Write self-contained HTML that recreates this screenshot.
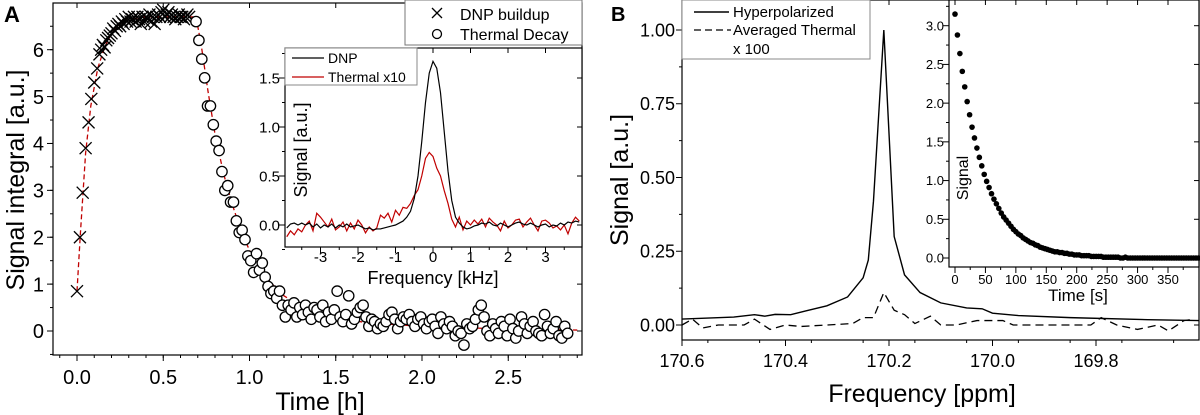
<!DOCTYPE html>
<html><head><meta charset="utf-8"><style>
body{margin:0;background:#fff}
svg{display:block;font-family:"Liberation Sans",sans-serif}
</style></head><body>
<svg id="fig" width="1200" height="415" viewBox="0 0 1200 415" xmlns="http://www.w3.org/2000/svg">
<rect width="1200" height="415" fill="#fff"/>
<g id="gA"></g>
<g id="gAi"></g>
<g id="gB"></g>
<g id="gBi"></g>
</svg>
<script>
// ---- Panel A data ----
const buildupT=[0,0.017,0.033,0.05,0.067,0.083,0.1,0.117,0.13,0.14,0.15,0.16,0.17,0.18,0.19,0.2,0.21,0.22,0.23,0.24,0.25,0.26,0.27,0.28,0.29,0.3,0.31,0.32,0.33,0.34,0.35,0.36,0.37,0.38,0.39,0.4,0.41,0.42,0.43,0.44,0.45,0.46,0.47,0.48,0.49,0.5,0.51,0.52,0.53,0.54,0.55,0.56,0.57,0.58,0.59,0.6,0.61,0.62,0.63,0.64,0.65];
const buildupV=[0.85,2.0,2.95,3.9,4.45,4.95,5.3,5.6,5.9,6.0,6.1,6.05,6.2,6.25,6.3,6.35,6.45,6.4,6.5,6.55,6.5,6.6,6.55,6.65,6.6,6.7,6.6,6.65,6.7,6.6,6.7,6.65,6.55,6.7,6.6,6.7,6.65,6.75,6.6,6.7,6.55,6.7,6.75,6.7,6.8,6.85,6.7,6.75,6.8,6.7,6.75,6.7,6.65,6.7,6.75,6.7,6.7,6.65,6.7,6.75,6.7];
const thermalStart=0.69, thermalStep=0.0167;
const thermalV=[6.6,6.2,5.8,5.4,4.8,4.8,4.4,4.05,3.85,3.4,3.0,3.1,2.75,2.75,2.35,2.1,2.15,1.95,1.6,1.5,1.25,1.65,1.3,1.45,1.15,0.95,0.8,0.85,0.7,0.85,0.55,0.3,0.55,
0.45,0.6,0.3,0.5,0.35,0.55,0.4,0.25,0.5,0.45,
0.3,0.55,0.2,0.4,0.25,0.45,0.85,0.3,0.2,0.35,
0.75,0.15,0.25,0.4,0.5,0.55,0.3,0.1,0.25,0.2,
0.05,0.15,0.1,0.2,0.35,0.4,0.25,0.05,0.2,0.3,
0.25,0.35,0.2,0.1,0.25,0.3,0.15,0.05,0.2,0.25,
0.1,-0.05,0.3,0.15,0.05,0.2,0.1,-0.1,0.0,-0.05,
-0.3,0.15,0.05,0.1,0.25,0.45,0.55,0.3,0.0,-0.1,
0.15,0.05,-0.05,0.2,0.1,-0.1,0.25,0.05,-0.15,0.0,
0.3,0.15,-0.05,0.1,0.2,0.0,-0.05,-0.1,0.35,0.1,-0.05,0.05,0.2,-0.1,-0.15,0.1,-0.05];
const fitT=[0,0.02,0.05,0.08,0.12,0.16,0.2,0.25,0.3,0.4,0.69,0.72,0.76,0.8,0.85,0.9,0.95,1.0,1.1,1.2,1.3,1.4,1.5,1.7,2.0,2.5,2.9];
const fitV=[0.85,2.1,3.8,4.8,5.6,6.05,6.35,6.55,6.65,6.7,6.7,6.1,5.1,4.2,3.35,2.7,2.15,1.72,1.12,0.75,0.52,0.37,0.27,0.17,0.1,0.04,0.02];
const aXTicks=[0,0.5,1.0,1.5,2.0,2.5];
const aXLabels=["0.0","0.5","1.0","1.5","2.0","2.5"];
const aYTicks=[0,1,2,3,4,5,6];
// ---- Panel A inset data ----
const specF=[-3.9,-3.8,-3.7,-3.6,-3.5,-3.4,-3.3,-3.2,-3.1,-3.0,-2.9,-2.8,-2.7,-2.6,-2.5,-2.4,-2.3,-2.2,-2.1,-2.0,-1.9,-1.8,-1.7,-1.6,-1.5,-1.4,-1.3,-1.2,-1.1,-1.0,-0.9,-0.8,-0.7,-0.6,-0.5,-0.4,-0.3,-0.2,-0.1,0,0.1,0.2,0.3,0.4,0.5,0.6,0.7,0.8,0.9,1.0,1.1,1.2,1.3,1.4,1.5,1.6,1.7,1.8,1.9,2.0,2.1,2.2,2.3,2.4,2.5,2.6,2.7,2.8,2.9,3.0,3.1,3.2,3.3,3.4,3.5,3.6,3.7,3.8,3.9];
const dnpV=[-0.03,0.01,0.02,0.0,0.02,0.0,0.02,-0.02,0.01,-0.03,0.0,-0.02,0.01,-0.03,0.0,-0.02,0.01,-0.02,-0.01,0.0,-0.02,-0.04,-0.03,-0.05,-0.04,-0.04,-0.03,-0.02,-0.01,0.0,0.02,0.04,0.08,0.14,0.27,0.5,0.85,1.25,1.55,1.67,1.6,1.35,0.95,0.55,0.25,0.08,0.02,-0.02,-0.04,-0.03,-0.01,0.0,0.02,0.01,0.03,0.0,-0.01,0.02,0.0,-0.02,0.0,0.02,0.03,0.01,0.0,0.02,0.0,-0.02,0.0,0.01,-0.02,0.0,-0.01,0.02,0.0,0.03,0.02,0.04,0.03];
const thermV=[-0.12,-0.06,-0.1,-0.04,-0.07,0.0,0.04,-0.06,0.12,0.08,0.03,-0.02,0.06,-0.05,-0.02,0.03,-0.06,0.02,-0.04,0.05,0.0,-0.08,-0.02,-0.06,-0.03,0.1,0.07,0.12,0.03,0.15,0.1,0.18,0.17,0.22,0.3,0.36,0.5,0.68,0.74,0.7,0.58,0.5,0.35,0.22,0.06,-0.02,0.08,-0.05,0.04,0.0,0.05,0.01,0.06,-0.02,0.07,0.03,0.0,-0.06,0.04,-0.03,0.0,0.05,0.06,-0.02,0.03,0.07,0.0,-0.06,0.04,0.05,0.02,-0.03,-0.01,-0.05,0.0,-0.09,0.02,0.08,0.04];
const aiXTicks=[-3,-2,-1,0,1,2,3];
const aiYTicks=[0,0.5,1.0,1.5];
const aiYLabels=["0.0","0.5","1.0","1.5"];
// ---- Panel B data ----
const hypPpm=[170.6,170.5,170.46,170.44,170.42,170.39,170.36,170.32,170.28,170.25,170.24,170.23,170.21,170.19,170.17,170.14,170.1,170.05,170.02,170.0,169.95,169.85,169.7,169.6];
const hypV=[0.02,0.027,0.035,0.03,0.036,0.035,0.048,0.065,0.095,0.16,0.22,0.42,1.0,0.3,0.17,0.11,0.075,0.058,0.055,0.04,0.032,0.025,0.018,0.015];
const thPpm=[170.6,170.58,170.56,170.53,170.48,170.46,170.43,170.4,170.37,170.32,170.27,170.25,170.23,170.21,170.19,170.17,170.15,170.12,170.1,170.07,170.03,169.98,169.96,169.9,169.81,169.79,169.76,169.72,169.68,169.66,169.63,169.61];
const thVb=[0.0,0.02,-0.01,0.0,0.0,0.02,-0.015,0.0,-0.005,0.0,0.005,0.025,0.025,0.11,0.05,0.035,0.005,0.03,0.0,0.0,0.015,0.015,0.0,0.0,0.0,0.025,0.0,-0.015,0.0,-0.02,0.015,0.02];
const bXTicks=[170.6,170.4,170.2,170.0,169.8];
const bXLabels=["170.6","170.4","170.2","170.0","169.8"];
const bYTicks=[0,0.25,0.5,0.75,1.0];
const bYLabels=["0.00","0.25","0.50","0.75","1.00"];
// ---- Panel B inset data ----
const decayStart=0, decayStep=4;
const decayV=[3.15,2.88,2.64,2.41,2.21,2.02,1.85,1.69,1.55,1.42,1.30,1.19,1.08,0.99,0.91,0.83,0.76,0.70,0.64,0.58,0.53,0.49,0.45,0.41,0.37,0.34,0.31,0.29,0.26,0.24,0.22,0.20,0.19,0.17,0.16,0.14,0.13,0.12,0.11,0.10,0.09,0.08,0.08,0.07,0.07,0.06,0.06,0.05,0.05,0.04,0.04,0.04,0.03,0.03,0.03,0.03,0.02,0.02,0.02,0.02,0.02,0.01,0.01,0.01,0.01,0.01,0.01,0.01,0.0,0.0,0.01,0.0,0.0,0.0,0.0,0.0,0.0,0.0,0.0,0.0,0.0,0.0,0.0,0.0,0.0,0.0,0.0,0.0,0.0,0.0,0.0,0.0,0.0,0.0,0.0,0.0,0.0,0.0,0.0,0.0,0.0];
const biXTicks=[0,50,100,150,200,250,300,350];
const biYTicks=[0,0.5,1.0,1.5,2.0,2.5,3.0];
const biYLabels=["0.0","0.5","1.0","1.5","2.0","2.5","3.0"];

const NS="http://www.w3.org/2000/svg";
function mk(p,tag,at,txt){const e=document.createElementNS(NS,tag);for(const k in at)e.setAttribute(k,at[k]);if(txt!==undefined)e.textContent=txt;p.appendChild(e);return e;}
function lin(d0,d1,r0,r1){return v=>r0+(v-d0)*(r1-r0)/(d1-d0);}

function frame(g,L,T,R,B,name){
  const f=mk(g,'rect',{x:L,y:T,width:R-L,height:B-T,fill:'none',stroke:'#000','stroke-width':1.2});
  
  
}
function xticks(g,xs,vals,labels,minor,B,T,fs,ly,name){
  vals.forEach((v,i)=>{
    mk(g,'line',{x1:xs(v),x2:xs(v),y1:B,y2:B+6,stroke:'#000','stroke-width':1});
    mk(g,'line',{x1:xs(v),x2:xs(v),y1:T,y2:T+5,stroke:'#000','stroke-width':1});
    const t=mk(g,'text',{x:xs(v),y:ly,'font-size':fs,'text-anchor':'middle'},labels[i]);
    
    
  });
  minor.forEach(v=>{mk(g,'line',{x1:xs(v),x2:xs(v),y1:B,y2:B+3,stroke:'#000','stroke-width':1});});
}
function yticks(g,ys,vals,labels,minor,L,R,fs,lx,name){
  vals.forEach((v,i)=>{
    mk(g,'line',{x1:L-6,x2:L,y1:ys(v),y2:ys(v),stroke:'#000','stroke-width':1});
    mk(g,'line',{x1:R-5,x2:R,y1:ys(v),y2:ys(v),stroke:'#000','stroke-width':1});
    const t=mk(g,'text',{x:lx,y:ys(v)+fs*0.36,'font-size':fs,'text-anchor':'end'},labels[i]);
    
    
  });
  minor.forEach(v=>{mk(g,'line',{x1:L-3,x2:L,y1:ys(v),y2:ys(v),stroke:'#000','stroke-width':1});});
}
function range(a,b,s){const r=[];for(let v=a;v<=b+1e-9;v+=s)r.push(+v.toFixed(4));return r;}

// ===== Panel A =====
const gA=document.getElementById('gA');
const AL=53,AR=582,AT=3,AB=355;
const ax=lin(0,1,77,249.5), ay=lin(0,6,331,49.7);
const fitPts=fitT.map((t,i)=>ax(t)+','+ay(fitV[i])).join(' ');
const fitLine=mk(gA,'polyline',{points:fitPts,fill:'none',stroke:'#c00000','stroke-width':1.3,'stroke-dasharray':'5,3'});


buildupT.forEach((t,i)=>{
  const x=ax(t),y=ay(buildupV[i]);
  const m=mk(gA,'path',{d:`M${x-6},${y-6}L${x+6},${y+6}M${x-6},${y+6}L${x+6},${y-6}`,stroke:'#000','stroke-width':1.3,fill:'none'});
  
  
});
thermalV.forEach((v,i)=>{
  const c=mk(gA,'circle',{cx:ax(thermalStart+i*thermalStep),cy:ay(v),r:5.2,fill:'#fff',stroke:'#000','stroke-width':1.3});
  
  
});
frame(gA,AL,AT,AR,AB,'panel-a-frame');
xticks(gA,ax,aXTicks,aXLabels,range(-0.1,2.9,0.1).filter(v=>v>=-0.14),AB,AT,20,384,'x-tick-label');
yticks(gA,ay,aYTicks,aYTicks.map(String),range(-0.5,6.5,0.5),AL,AR,20,44,'y-tick-label');
{const t=mk(gA,'text',{x:0,y:0,'font-size':25,'text-anchor':'middle',transform:'translate(24,180) rotate(-90)'},'Signal integral [a.u.]');
}
{const t=mk(gA,'text',{x:320,y:410,'font-size':25,'text-anchor':'middle'},'Time [h]');
}
{const t=mk(gA,'text',{x:4,y:22,'font-size':22,'font-weight':'bold'},'A');
}
{const lg=mk(gA,'g',{});

mk(lg,'rect',{x:405,y:0,width:177,height:45,fill:'#fff',stroke:'#777','stroke-width':1});
mk(lg,'path',{d:'M432,8L442,18M432,18L442,8',stroke:'#000','stroke-width':1.3});
mk(lg,'circle',{cx:437,cy:34,r:4.5,fill:'#fff',stroke:'#000','stroke-width':1.3});
const e1=mk(lg,'text',{x:460,y:20,'font-size':16},'DNP buildup');

const e2=mk(lg,'text',{x:460,y:40,'font-size':16},'Thermal Decay');
}

// ===== Panel A inset =====
const gAi=document.getElementById('gAi');
const IL=285,IR=582,IT=48,IB=247;
mk(gAi,'rect',{x:IL,y:IT,width:IR-IL,height:IB-IT,fill:'#fff'});
const ix=lin(0,1,433,470.5), iy=lin(0,1.5,225,78);
const thLine=mk(gAi,'polyline',{points:specF.map((f,i)=>ix(f)+','+iy(thermV[i])).join(' '),fill:'none',stroke:'#c00000','stroke-width':1.2});

const dnLine=mk(gAi,'polyline',{points:specF.map((f,i)=>ix(f)+','+iy(dnpV[i])).join(' '),fill:'none',stroke:'#000','stroke-width':1.2});

frame(gAi,IL,IT,IR,IB,'inset-a-frame');
xticks(gAi,ix,aiXTicks,aiXTicks.map(String),range(-3.5,3.5,1),IB,IT,15,262,'inset-x-tick-label');
yticks(gAi,iy,aiYTicks,aiYLabels,range(-0.25,1.75,0.5),IL,IR,15,280,'inset-y-tick-label');
{const t=mk(gAi,'text',{x:0,y:0,'font-size':18,'text-anchor':'middle',transform:'translate(307,150) rotate(-90)'},'Signal [a.u.]');
}
{const t=mk(gAi,'text',{x:433,y:284,'font-size':18,'text-anchor':'middle'},'Frequency [kHz]');
}
{const lg=mk(gAi,'g',{});

mk(lg,'rect',{x:IL,y:IT,width:132,height:37,fill:'#fff',stroke:'#888','stroke-width':1});
mk(lg,'line',{x1:292,x2:324,y1:58,y2:58,stroke:'#000','stroke-width':1.2});
mk(lg,'line',{x1:292,x2:324,y1:77,y2:77,stroke:'#c00000','stroke-width':1.2});
const a=mk(lg,'text',{x:328,y:63,'font-size':14},'DNP');
const b=mk(lg,'text',{x:328,y:82,'font-size':14},'Thermal x10');}

// ===== Panel B =====
const gB=document.getElementById('gB');
const BL=682,BR=1199,BT=0,BB=340;
const bx=lin(170.6,169.8,682,1096), by=lin(0,1,325,30);
const hl=mk(gB,'polyline',{points:hypPpm.map((p,i)=>bx(p)+','+by(hypV[i])).join(' '),fill:'none',stroke:'#000','stroke-width':1.4});

const tl=mk(gB,'polyline',{points:thPpm.map((p,i)=>bx(p)+','+by(thVb[i])).join(' '),fill:'none',stroke:'#000','stroke-width':1.3,'stroke-dasharray':'8,5'});

frame(gB,BL,BT,BR,BB,'panel-b-frame');
xticks(gB,bx,bXTicks,bXLabels,range(169.65,170.55,0.1).map(v=>+v.toFixed(2)),BB,BT,18,367,'x-tick-label');
yticks(gB,by,bYTicks,bYLabels,[-0.125,0.125,0.375,0.625,0.875],BL,BR,18,675,'y-tick-label');
{const t=mk(gB,'text',{x:0,y:0,'font-size':25,'text-anchor':'middle',transform:'translate(628,180) rotate(-90)'},'Signal [a.u.]');
}
{const t=mk(gB,'text',{x:922,y:402,'font-size':25,'text-anchor':'middle'},'Frequency [ppm]');
}
{const t=mk(gB,'text',{x:611,y:21,'font-size':20,'font-weight':'bold'},'B');
}
{const lg=mk(gB,'g',{});

mk(lg,'rect',{x:682,y:0,width:188,height:59,fill:'#fff',stroke:'#888','stroke-width':1});
mk(lg,'line',{x1:694,x2:729,y1:12,y2:12,stroke:'#000','stroke-width':1.4});
mk(lg,'line',{x1:694,x2:731,y1:30,y2:30,stroke:'#000','stroke-width':1.3,'stroke-dasharray':'7,4'});
const a=mk(lg,'text',{x:733,y:17,'font-size':15},'Hyperpolarized');
const b=mk(lg,'text',{x:733,y:35,'font-size':15},'Averaged Thermal');
const c=mk(lg,'text',{x:733,y:54,'font-size':15},'x 100');}

// ===== Panel B inset =====
const gBi=document.getElementById('gBi');
const JL=949,JR=1199,JT=0,JB=267;
mk(gBi,'rect',{x:JL,y:JT,width:JR-JL,height:JB-JT,fill:'#fff'});
const jx=lin(0,350,955,1168), jy=lin(0,3,258,25.7);
decayV.forEach((v,i)=>{
  const c=mk(gBi,'circle',{cx:jx(decayStart+i*decayStep),cy:jy(v),r:2.8,fill:'#000'});
  
  
});
frame(gBi,JL,JT,JR,JB,'inset-b-frame');
xticks(gBi,jx,biXTicks,biXTicks.map(String),range(25,375,50),JB,JT,13,284,'inset-x-tick-label');
yticks(gBi,jy,biYTicks,biYLabels,range(0.25,3.25,0.5),JL,JR,13,944,'inset-y-tick-label');
{const t=mk(gBi,'text',{x:0,y:0,'font-size':16,'text-anchor':'middle',transform:'translate(968,178) rotate(-90)'},'Signal');
}
{const t=mk(gBi,'text',{x:1078,y:301,'font-size':17,'text-anchor':'middle'},'Time [s]');
}
</script>
</body></html>
